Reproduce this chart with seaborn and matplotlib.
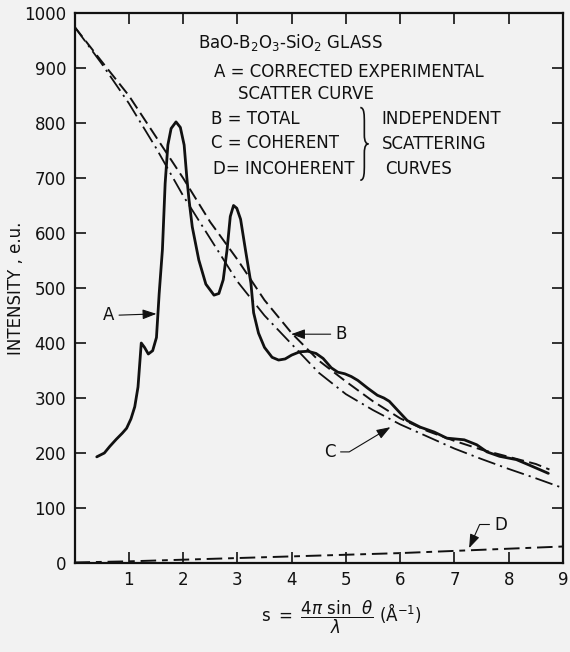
import numpy as np
import pandas as pd
import matplotlib
matplotlib.use("Agg")
import matplotlib.pyplot as plt
import seaborn as sns
from matplotlib.path import Path
from matplotlib.patches import PathPatch

# A = corrected experimental scatter curve
a_s = [0.41, 0.55, 0.65, 0.77, 0.88, 0.96, 1.04, 1.11, 1.17, 1.23, 1.29, 1.36, 1.44,
       1.51, 1.56, 1.62, 1.67, 1.72, 1.78, 1.87, 1.95, 2.02, 2.07, 2.11, 2.17, 2.29,
       2.42, 2.57, 2.66, 2.74, 2.81, 2.87, 2.93, 2.99, 3.06, 3.15, 3.25, 3.30, 3.39,
       3.50, 3.64, 3.76, 3.88, 4.00, 4.15, 4.30, 4.45, 4.58, 4.73, 4.85, 4.98, 5.10,
       5.22, 5.40, 5.58, 5.70, 5.80, 5.95, 6.13, 6.37, 6.63, 6.86, 7.18, 7.41, 7.60,
       7.83, 8.14, 8.38, 8.73]
a_int = [193, 200, 212, 225, 236, 245, 262, 284, 320, 400, 392, 380, 386,
         410, 490, 570, 690, 760, 790, 802, 792, 760, 700, 660, 611, 551,
         507, 487, 490, 515, 569, 630, 650, 645, 625, 569, 509, 455, 418,
         392, 374, 369, 371, 378, 384, 385, 381, 372, 355, 347, 344, 339,
         332, 318, 305, 300, 294, 278, 259, 247, 238, 227, 224, 215, 202,
         194, 188, 178, 163]

# B = total independent scattering
b_s = [0.0, 0.5, 1.0, 1.5, 2.0, 2.5, 3.0, 3.5, 4.0, 4.5, 5.0, 5.5, 6.0, 6.5, 7.0,
       7.5, 8.0, 8.5, 8.75]
b_int = [975, 912, 850, 775, 700, 620, 552, 478, 418, 368, 330, 294, 263, 240, 222,
         206, 193, 180, 170]

# C = coherent
c_s = [0.0, 0.5, 1.0, 1.5, 2.0, 2.5, 3.0, 3.5, 4.0, 4.5, 5.0, 5.5, 6.0, 6.5, 7.0,
       7.5, 8.0, 8.5, 8.95]
c_int = [975, 908, 836, 755, 668, 590, 512, 450, 398, 346, 307, 278, 252, 230, 208,
         189, 171, 154, 138]

# D = incoherent
d_s = [0, 1, 2, 3, 4, 5, 6, 7, 8, 9]
d_int = [1, 3, 6, 9, 12, 15, 18, 22, 26, 30]

y_ticks = list(range(0, 1001, 100))
x_ticks = list(range(1, 10))

sns.set_style("ticks")
plt.rcParams['font.family'] = ['DejaVu Sans']
plt.rcParams['mathtext.fontset'] = 'dejavusans'
bg = '#f2f2f2'
ink = '#111111'

fig = plt.figure(figsize=(5.7, 6.52), dpi=100, facecolor=bg)
ax = fig.add_axes([74.5 / 570, 1 - 563 / 652, (563 - 74.5) / 570, (563 - 13) / 652])
ax.set_facecolor(bg)

sns.lineplot(x=a_s, y=a_int, ax=ax, color=ink, lw=2.0, sort=False, estimator=None)
sns.lineplot(x=b_s, y=b_int, ax=ax, color=ink, lw=1.4, sort=False, estimator=None,
             linestyle=(0, (6.5, 2.8)))
sns.lineplot(x=c_s, y=c_int, ax=ax, color=ink, lw=1.3, sort=False, estimator=None,
             linestyle=(0, (10, 2.8, 1.2, 2.8)))
sns.lineplot(x=d_s, y=d_int, ax=ax, color=ink, lw=1.4, sort=False, estimator=None,
             linestyle=(0, (8, 3, 3, 3)))

ax.set_xlim(0, 9)
ax.set_ylim(0, 1000)
ax.set_xticks(x_ticks)
ax.set_xticklabels([str(t) for t in x_ticks])
ax.set_yticks(y_ticks)
ax.set_yticklabels([str(t) for t in y_ticks])
ax.tick_params(direction='in', length=8, width=1.2, top=True, right=True,
               labelsize=12, colors=ink, pad=6)
for sp in ax.spines.values():
    sp.set_linewidth(1.6)
    sp.set_color(ink)
ax.set_xlabel('')
ax.set_ylabel('INTENSITY , e.u.', fontsize=12, color=ink, labelpad=-1)

fig.text(341 / 570, 1 - 617 / 652,
         r'$\mathrm{s\ =\ }\dfrac{4\pi\ \mathrm{sin}\ \ \theta}{\lambda}\ (\mathrm{\AA}^{-1})$',
         ha='center', va='center', fontsize=12, color=ink)

# legend block
fs = 12
ax.text(3.98, 947, 'BaO-B$_2$O$_3$-SiO$_2$ GLASS', ha='center', va='center', fontsize=fs, color=ink)
ax.text(2.57, 893, 'A = CORRECTED EXPERIMENTAL', ha='left', va='center', fontsize=fs, color=ink)
ax.text(3.01, 853, 'SCATTER CURVE', ha='left', va='center', fontsize=fs, color=ink)
ax.text(2.51, 807, 'B = TOTAL', ha='left', va='center', fontsize=fs, color=ink)
ax.text(2.51, 764, 'C = COHERENT', ha='left', va='center', fontsize=fs, color=ink)
ax.text(2.55, 716, 'D= INCOHERENT', ha='left', va='center', fontsize=fs, color=ink)
ax.text(5.66, 807, 'INDEPENDENT', ha='left', va='center', fontsize=fs, color=ink)
ax.text(5.66, 762, 'SCATTERING', ha='left', va='center', fontsize=fs, color=ink)
ax.text(5.73, 716, 'CURVES', ha='left', va='center', fontsize=fs, color=ink)


def brace(ax, cx, cy, w, h):
    # right curly brace, tip pointing right
    verts = [(cx - w / 2, cy + h), (cx, cy + h), (cx, cy + 0.8 * h), (cx, cy + 0.55 * h),
             (cx, cy + 0.25 * h),
             (cx, cy + 0.05 * h), (cx + w / 4, cy), (cx + w / 2, cy),
             (cx + w / 4, cy), (cx, cy - 0.05 * h), (cx, cy - 0.25 * h),
             (cx, cy - 0.55 * h),
             (cx, cy - 0.8 * h), (cx, cy - h), (cx - w / 2, cy - h)]
    codes = [Path.MOVETO, Path.CURVE4, Path.CURVE4, Path.CURVE4, Path.LINETO,
             Path.CURVE4, Path.CURVE4, Path.CURVE4,
             Path.CURVE4, Path.CURVE4, Path.CURVE4, Path.LINETO,
             Path.CURVE4, Path.CURVE4, Path.CURVE4]
    ax.add_patch(PathPatch(Path(verts, codes), fill=False, lw=1.2, color=ink))


brace(ax, 5.34, 762, 0.15, 66)

# curve labels with arrows
arrow = dict(arrowstyle='-|>,head_length=0.7,head_width=0.25', lw=0.8, color=ink,
             shrinkA=1, shrinkB=0)
ax.annotate('A', xy=(1.51, 453), xytext=(0.63, 450), fontsize=fs, color=ink,
            ha='center', va='center', arrowprops=arrow)
ax.annotate('B', xy=(3.99, 416), xytext=(4.91, 416), fontsize=fs, color=ink,
            ha='center', va='center', arrowprops=arrow)
ax.annotate('C', xy=(5.82, 247), xytext=(4.71, 202), fontsize=fs, color=ink,
            ha='center', va='center',
            arrowprops=dict(arrow, connectionstyle='angle,angleA=0,angleB=31,rad=0'))
ax.annotate('D', xy=(7.27, 27), xytext=(7.85, 70), fontsize=fs, color=ink,
            ha='center', va='center',
            arrowprops=dict(arrow, connectionstyle='angle,angleA=0,angleB=66,rad=0'))

fig.savefig('out.png', dpi=100, facecolor=bg)
